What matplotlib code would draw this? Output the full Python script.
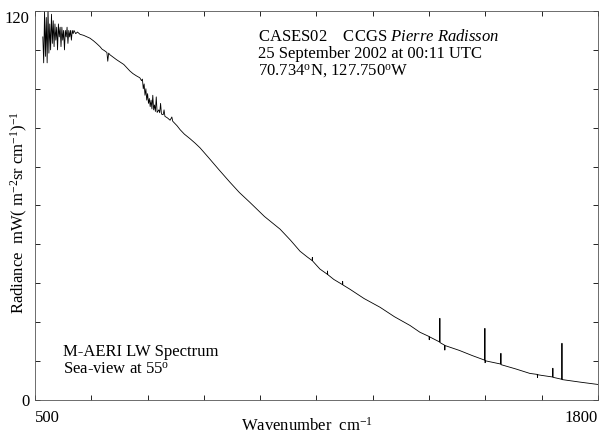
import numpy as np
import matplotlib
matplotlib.use("Agg")
import matplotlib.pyplot as plt

plt.rcParams['font.family'] = ['Liberation Serif', 'DejaVu Serif']
plt.rcParams['mathtext.fontset'] = 'custom'
plt.rcParams['mathtext.rm'] = 'Liberation Serif'
plt.rcParams['mathtext.it'] = 'Liberation Serif:italic'

# M-AERI sea-view spectrum
wavenumber = [
    518, 520, 522, 524, 526, 528, 530, 532, 534, 536, 538, 540, 542, 544, 546,
    548, 550, 552, 554, 556, 558, 560, 562, 564, 566, 568, 570, 572, 574, 576,
    578, 580, 582, 584, 586, 588, 590, 594, 598, 604, 612, 620, 627, 635, 642,
    650, 655, 660, 666, 668, 670, 673, 680, 688, 696, 705, 712, 719, 726, 734,
    742, 746, 748, 750, 752, 754, 756, 758, 760, 762, 764, 766, 768, 770, 772,
    774, 776, 778, 780, 782, 786, 788, 790, 792, 796, 798, 800, 806, 812, 816,
    818, 828, 835, 845, 858, 870, 881, 900, 925, 950, 972, 996, 1030, 1066,
    1090, 1112, 1128, 1140, 1140.5, 1141, 1158, 1175, 1175.5, 1176, 1190, 1210,
    1210.5, 1211, 1227, 1260, 1297, 1330, 1366, 1389, 1410, 1410.5, 1411, 1434.5,
    1435, 1435.5, 1446, 1446.5, 1447, 1480, 1510, 1538.5, 1539, 1539.5, 1540, 1575.5,
    1576, 1576.5, 1610, 1643, 1660, 1660.5, 1661, 1670, 1695.5, 1696, 1696.5, 1716.5,
    1717, 1717.5, 1760, 1800,
]
radiance = [
    112, 104, 120, 106, 118, 104, 121, 107, 116, 108, 119, 110, 117, 109, 116,
    111, 115, 108, 116, 112, 115, 109, 115, 111, 114, 108, 114, 112, 115, 110,
    114, 112, 114, 111, 114, 113, 114, 113, 113.5, 112.8, 112.5, 112, 111.6,
    110.8, 110, 109, 108.2, 107.8, 107.2, 104.5, 107, 106.5, 105.8, 105, 104.3,
    103.5, 102.5, 101.5, 100.7, 100, 99.4, 98.5, 99, 96, 97.5, 94, 96, 92.5,
    94.5, 91.5, 93, 90.5, 92.5, 89.8, 94, 89.5, 91, 89, 93.5, 88.7, 89.5, 88.6,
    91.5, 88.2, 88, 89.5, 87.5, 87, 86.3, 87.3, 86, 84.6, 83.4, 82, 80.6, 79.2,
    77.8, 74.9, 71.0, 67.2, 64.0, 61.0, 56.6, 52.7, 49.3, 45.9, 44.2, 43.0,
    44.0, 42.9, 40.4, 38.8, 39.8, 38.7, 37.2, 35.6, 36.6, 35.5, 34.2, 31.3,
    28.6, 25.7, 23.0, 20.9, 19.6, 18.6, 19.5, 17.9, 25.2, 17.7, 16.9, 15.4,
    16.8, 15.3, 13.7, 12.3, 22.1, 11.5, 12.1, 11.1, 14.4, 10.9, 9.6, 8.2, 7.9,
    6.9, 7.8, 7.6, 7.1, 9.8, 7.0, 6.4, 17.5, 6.3, 5.5, 4.8,
]

x_ticks = [500, 630, 760, 890, 1020, 1150, 1280, 1410, 1540, 1670, 1800]
x_labels = ['500', '', '', '', '', '', '', '', '', '', '1800']
y_ticks = [0, 12, 24, 36, 48, 60, 72, 84, 96, 108, 120]
y_labels = ['0', '', '', '', '', '', '', '', '', '', '120']

fig = plt.figure(figsize=(6.07, 4.34), dpi=100)
ax = fig.add_axes([0.0577, 0.0783, 0.9273, 0.8964])

ax.plot(wavenumber, radiance, color='black', linewidth=0.6)

ax.set_xlim(500, 1800)
ax.set_ylim(0, 120)
ax.set_xticks(x_ticks)
ax.set_xticklabels(x_labels, fontsize=12)
ax.set_yticks(y_ticks)
ax.set_yticklabels(y_labels, fontsize=12)
ax.tick_params(direction='in', length=3.5, width=0.6, top=True, right=True)
ax.tick_params(axis='x', pad=7)
ax.tick_params(axis='y', pad=4)
xl = ax.get_xticklabels()
xl[0].set_ha('left')
xl[-1].set_ha('right')
yl = ax.get_yticklabels()
yl[-1].set_va('top')
for s in ax.spines.values():
    s.set_linewidth(0.6)
    s.set_color('#555555')

ax.set_xlabel('Wavenumber  cm$^{-1}$', fontsize=12, va='baseline')
ax.xaxis.set_label_coords(0.484, -0.078)
ax.set_ylabel('Radiance  mW( m$^{-2}$sr cm$^{-1}$)$^{-1}$', fontsize=12, va='center')
ax.yaxis.set_label_coords(-0.027, 0.483)

ax.text(0.396, 0.933, 'CASES02    CCGS $\\it{Pierre\\ Radisson}$', transform=ax.transAxes, fontsize=12, va='center')
ax.text(0.396, 0.889, '25 September 2002 at 00:11 UTC', transform=ax.transAxes, fontsize=12, va='center')
ax.text(0.396, 0.846, '70.734$^{\\rm o}$N, 127.750$^{\\rm o}$W', transform=ax.transAxes, fontsize=12, va='center')
ax.text(0.05, 0.123, 'M-AERI LW Spectrum', transform=ax.transAxes, fontsize=12, va='center')
ax.text(0.05, 0.077, 'Sea-view at 55$^{\\rm o}$', transform=ax.transAxes, fontsize=12, va='center')

fig.savefig('out.png', dpi=100)
